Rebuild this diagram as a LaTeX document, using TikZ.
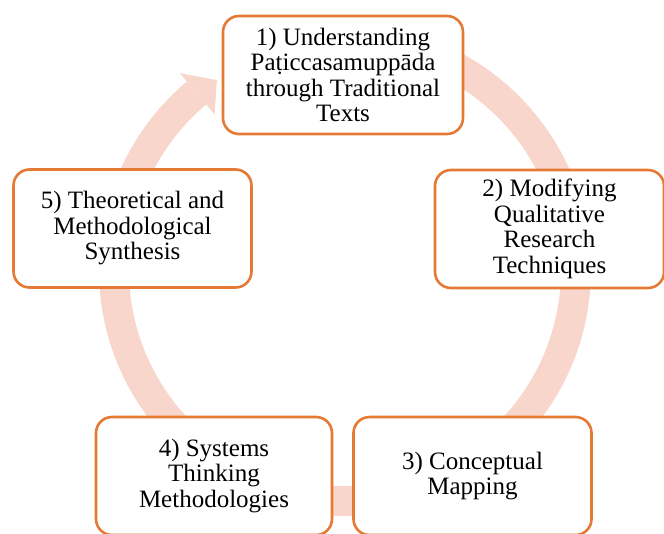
\documentclass[tikz,border=0pt]{standalone}
\usepackage{fontspec}
\setmainfont{Liberation Serif}
\definecolor{boxline}{RGB}{229,122,52}
\definecolor{ringfill}{RGB}{248,214,203}
\begin{document}
\begin{tikzpicture}[x=1pt,y=1pt,
  stagebox/.style={draw=boxline, line width=2.6pt, fill=white,
    rounded corners=16pt, minimum width=238pt, minimum height=118pt,
    inner sep=0pt, align=center, text=black,
    font=\fontsize{25}{25.5}\selectfont}]
\useasboundingbox (0,0) rectangle (664,-533);
\coordinate (hub) at (345,-270);
% circular arrow behind the stages
\draw[ringfill, line width=30pt]
  ([shift={(85:231)}]hub) arc[start angle=85, end angle=-230, radius=231];
\fill[ringfill] ([shift={(130:257)}]hub) -- ([shift={(124:229)}]hub)
  -- ([shift={(130:203)}]hub) -- cycle;
% the five stages
\node[stagebox, minimum width=240pt] (s1) at (343,-75)
  {1) Understanding\\Pa\d{t}iccasamuppāda\\through Traditional\\Texts};
\node[stagebox, minimum width=229pt] (s2) at (549.5,-229)
  {2) Modifying\\Qualitative\\Research\\Techniques};
\node[stagebox] (s3) at (472.5,-476) {3) Conceptual\\Mapping};
\node[stagebox, minimum width=236pt] (s4) at (214,-476)
  {4) Systems\\Thinking\\Methodologies};
\node[stagebox] (s5) at (132.5,-228.5)
  {5) Theoretical and\\Methodological\\Synthesis};
\end{tikzpicture}
\end{document}
